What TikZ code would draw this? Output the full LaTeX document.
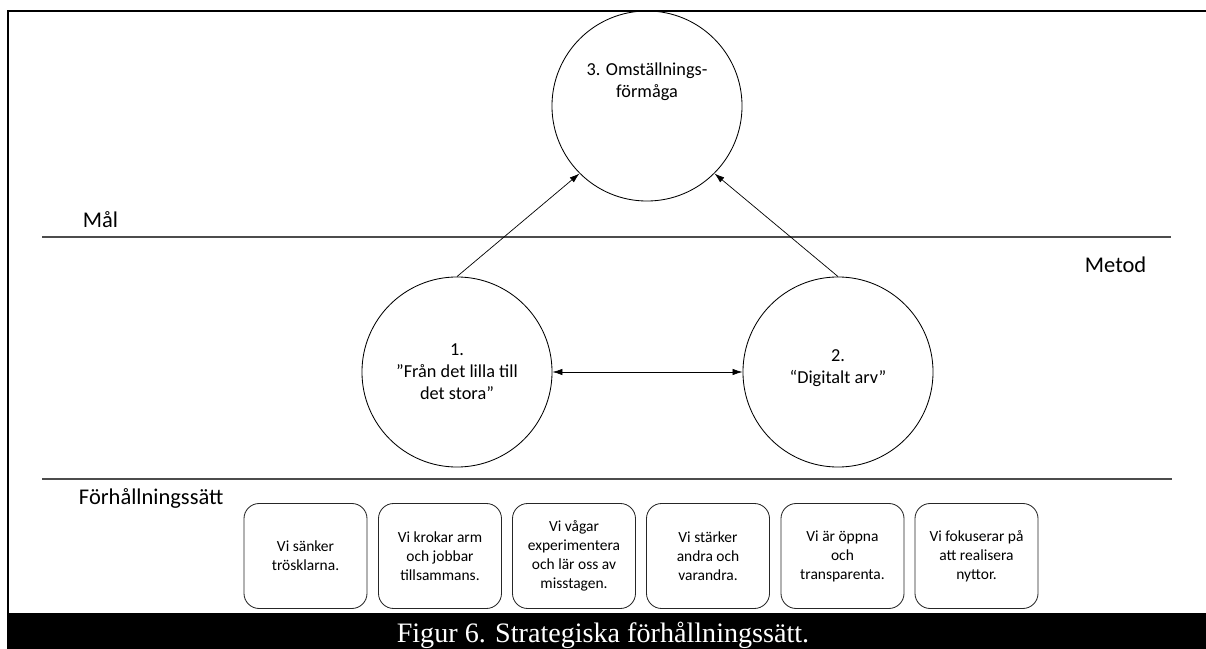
\documentclass[tikz,border=0pt]{standalone}
\usepackage{fontspec}
\setmainfont{Carlito}
\newfontfamily\capfont{Liberation Serif}
\usetikzlibrary{arrows.meta}
\begin{document}
\begin{tikzpicture}[x=0.025cm, y=-0.025cm,
		circ/.style={circle, draw, line width=0.6pt, minimum size=4.75cm, inner sep=0pt, align=center, font=\fontsize{13}{15.6}\selectfont},
		ctext/.style={align=center, font=\fontsize{13}{15.6}\selectfont},
		leafbox/.style={rectangle, rounded corners=0.38cm, draw=black!85, line width=0.6pt, minimum width=3.075cm, minimum height=2.625cm, align=center, font=\fontsize{11}{13.5}\selectfont},
		lvl/.style={anchor=west, font=\fontsize{16}{19}\selectfont},
		sep/.style={draw=black!70, line width=1pt},
		arr/.style={-{Latex[length=0.25cm,width=0.16cm]}, line width=0.5pt},
		biarr/.style={{Latex[length=0.25cm,width=0.16cm]}-{Latex[length=0.25cm,width=0.16cm]}, line width=0.5pt},
	]
	\useasboundingbox (0,0) rectangle (1206,649);

	% Frame and caption band
	\draw[line width=1.5pt] (7,11) -- (1206,11);
	\draw[line width=1.5pt] (8,11) -- (8,613);
	\fill[black] (7,613) rectangle (1206,649);
	\node[anchor=base, text=white, font=\capfont\fontsize{20}{24}\selectfont] (caption) at (603,642) {Figur 6. Strategiska förhållningssätt.};

	% Levels
	\draw[sep] (42,237) -- (1171,237);
	\draw[sep] (42,479) -- (1172,479);
	\node[lvl] (mal)   at (78,220)   {Mål};
	\node[lvl] (metod) at (1080,265) {Metod};
	\node[lvl] (forh)  at (74,498)   {Förhållningssätt};

	% Circles
	\node[circ] (omst) at (647,106) {};
	\node[ctext] (omsttext) at (647,82) {3. Omställnings-\\förmåga};
	\node[circ] (fran) at (457,372) {1.\\”Från det lilla till\\det stora”};
	\node[circ] (arv)  at (838,372) {2.\\“Digitalt arv”\\[-0.6em]};

	% Connections
	\draw[arr] (fran.north) -- (omst.south west);
	\draw[arr] (arv.north) -- (omst.south east);
	\draw[biarr] (fran.east) -- (arv.west);

	% Approaches
	\node[leafbox] (trosklar) at (305.5,556)  {Vi sänker\\trösklarna.};
	\node[leafbox] (krokar)   at (440,556)    {Vi krokar arm\\och jobbar\\tillsammans.};
	\node[leafbox] (vagar)    at (574,556)    {Vi vågar\\experimentera\\och lär oss av\\misstagen.};
	\node[leafbox] (starker)  at (708,556)    {Vi stärker\\andra och\\varandra.};
	\node[leafbox] (oppna)    at (842.5,556)  {Vi är öppna\\och\\transparenta.};
	\node[leafbox] (nyttor)   at (976.5,556)  {Vi fokuserar på\\att realisera\\nyttor.};

\end{tikzpicture}
\end{document}
